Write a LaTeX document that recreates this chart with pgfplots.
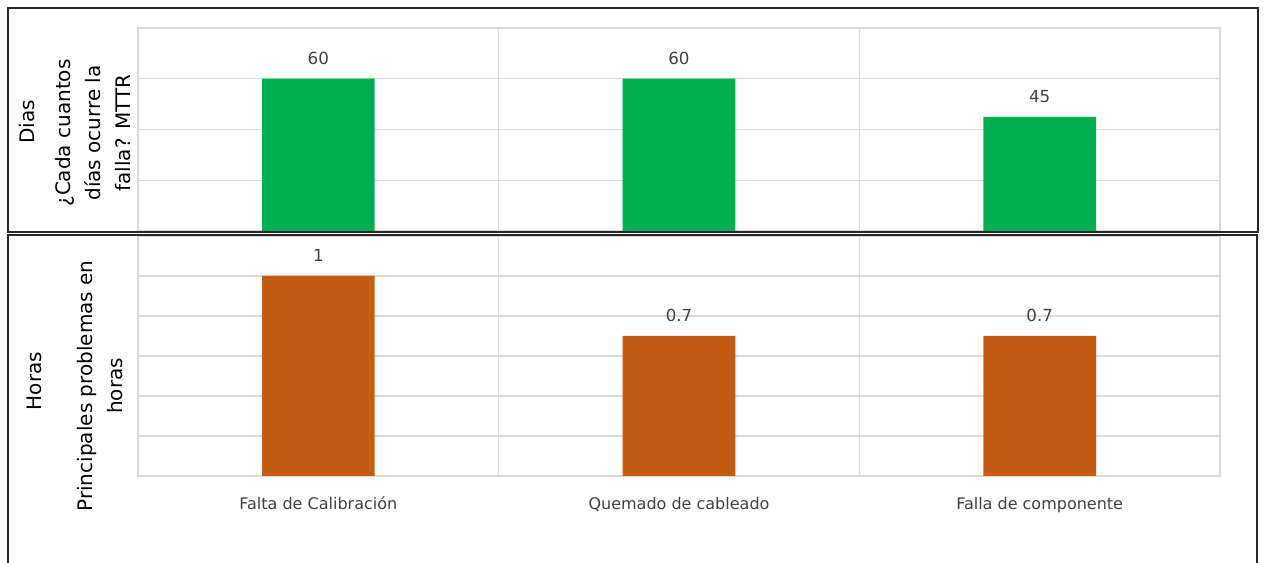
\documentclass[border=0pt]{standalone}
\usepackage{pgfplots}
\pgfplotsset{compat=1.18}
\usepackage{fontspec}
\setmainfont{DejaVu Sans}

\definecolor{barGreen}{HTML}{00B050}
\definecolor{barOrange}{HTML}{C55A11}
\definecolor{gridGray}{HTML}{D9D9D9}
\definecolor{labelGray}{HTML}{404040}
\definecolor{frameGray}{HTML}{262626}

% common look of both bar panels
\pgfplotsset{
  panel/.style={
    scale only axis,
    width=811.5pt,
    xmin=0.5, xmax=3.5, ymin=0,
    enlargelimits=false,
    ybar, bar width=84.5pt, bar shift=0pt,
    xtick={1,2,3},
    minor xtick={1.5,2.5},
    xminorgrids=true, ymajorgrids=true, xmajorgrids=false,
    yticklabels={,,,,,,,,},
    tick style={draw=none},
    major tick length=0pt, minor tick length=0pt,
    axis line style={draw=gridGray, line width=0.9pt},
    major grid style={draw=gridGray, line width=0.9pt},
    minor grid style={draw=gridGray, line width=0.9pt},
    /pgf/number format/assume math mode=true,
    nodes near coords,
    every node near coord/.append style={
      font=\fontsize{12.5}{14}\selectfont, text=labelGray,
      anchor=base, inner sep=0pt, yshift=11pt},
  },
}

\begin{document}
\begin{tikzpicture}
\path[use as bounding box] (0,0) rectangle (948pt,422.25pt);

% upper panel: days between failures
\begin{axis}[panel,
  at={(103.5pt,249pt)}, anchor=south west,
  height=152.25pt,
  ymax=80, ytick={0,20,40,60,80},
  xticklabels={,,},
]
\addplot[fill=barGreen, draw=none] coordinates {(1,60) (2,60) (3,45)};
\end{axis}

% lower panel: hours per problem
\begin{axis}[panel,
  at={(103.5pt,65.25pt)}, anchor=south west,
  height=180pt,
  ymax=1.2, ytick={0,0.2,0.4,0.6,0.8,1.0,1.2},
  xticklabels={Falta de Calibración, Quemado de cableado, Falla de componente},
  xticklabel style={font=\fontsize{12}{14}\selectfont, text=labelGray,
    anchor=base, inner sep=0pt, yshift=-25.5pt},
]
\addplot[fill=barOrange, draw=none] coordinates {(1,1) (2,0.7) (3,0.7)};
\end{axis}

% axis titles
\begin{scope}[every node/.style={rotate=90, align=center, inner sep=0pt,
    font=\fontsize{15}{22.5}\selectfont, text=black}]
  \node at (20.6pt,330.75pt) {Dias};
  \node at (69.75pt,322.5pt) {¿Cada cuantos\\días ocurre la\\falla? MTTR};
  \node at (25.5pt,136.5pt) {Horas};
  \node at (75.4pt,132.75pt) {Principales problemas en\\horas};
\end{scope}

% panel frames
\draw[frameGray, line width=1.5pt] (6pt,416.25pt) rectangle (943.5pt,248.25pt);
\draw[frameGray, line width=1.3pt] (6pt,-2pt) -- (6pt,246pt) -- (942.75pt,246pt) -- (942.75pt,-2pt);
\end{tikzpicture}
\end{document}
